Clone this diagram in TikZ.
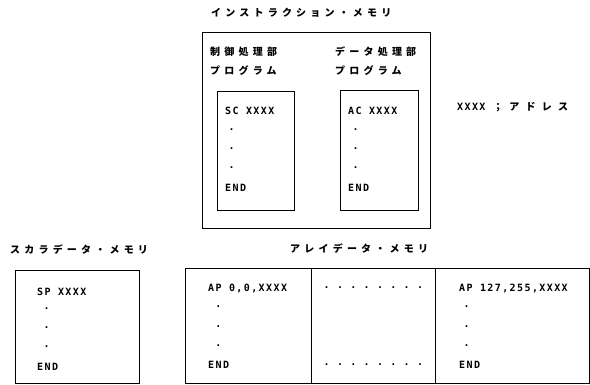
\documentclass[tikz,border=0pt]{standalone}
\usepackage{fontspec}
\newfontfamily\jpfont[LetterSpace=42]{Noto Sans CJK JP}
\newfontfamily\codefont[LetterSpace=14]{DejaVu Sans Mono}
\newfontfamily\dotfont{DejaVu Sans Mono}
\begin{document}
\begin{tikzpicture}[x=1pt,y=-1pt,
  box/.style={draw, line width=0.9pt, rectangle, inner sep=0pt, anchor=north west},
  jptext/.style={font=\jpfont\bfseries\fontsize{10pt}{12pt}\selectfont, inner sep=0pt, anchor=west},
  codetext/.style={font=\codefont\bfseries\fontsize{10pt}{12pt}\selectfont, inner sep=0pt, anchor=west},
  dotmark/.style={font=\dotfont\bfseries\fontsize{10pt}{12pt}\selectfont, inner sep=0pt, anchor=center}]
\useasboundingbox (0,0) rectangle (590,385);
\fill[white] (0,0) rectangle (590,385);

% instruction memory
\node[jptext] (ttl) at (211,13) {インストラクション・メモリ};
\node[box, minimum width=228pt, minimum height=196pt] (imem) at (202,32) {};
\node[jptext] (cl1) at (210,52) {制御処理部};
\node[jptext] (cl2) at (210,71) {プログラム};
\node[jptext] (dl1) at (335,52) {データ処理部};
\node[jptext] (dl2) at (335,71) {プログラム};

\node[box, minimum width=77pt, minimum height=119pt] (sc) at (217,91) {};
\node[box, minimum width=78pt, minimum height=120pt] (ac) at (340,90) {};

\node[codetext] (sc1) at (225,111) {SC XXXX};
\node[dotmark] (scd1) at (231.7,130) {.};
\node[dotmark] (scd2) at (231.7,149) {.};
\node[dotmark] (scd3) at (231.7,168) {.};
\node[codetext] (sc2) at (225,188) {END};

\node[codetext] (ac1) at (348,111) {AC XXXX};
\node[dotmark] (acd1) at (355.7,130) {.};
\node[dotmark] (acd2) at (355.7,149) {.};
\node[dotmark] (acd3) at (355.7,168) {.};
\node[codetext] (ac2) at (348,188) {END};

% legend
\node[codetext] (lgx) at (457,107) {XXXX};
\node[jptext, font=\jpfont\bfseries\fontsize{10pt}{12pt}\selectfont\addfontfeatures{LetterSpace=62}] (lgt) at (493,107) {；アドレス};

% scalar data memory
\node[jptext] (stl) at (10,250) {スカラデータ・メモリ};
\node[box, minimum width=124pt, minimum height=113pt] (smem) at (15,270) {};
\node[codetext] (sp1) at (37,292) {SP XXXX};
\node[dotmark] (spd1) at (46.7,309) {.};
\node[dotmark] (spd2) at (46.7,328) {.};
\node[dotmark] (spd3) at (46.7,347) {.};
\node[codetext] (sp2) at (37,367) {END};

% array data memory
\node[jptext] (atl) at (290,249) {アレイデータ・メモリ};
\node[box, minimum width=126pt, minimum height=115pt] (am1) at (185,268) {};
\node[box, minimum width=124pt, minimum height=115pt] (am2) at (311,268) {};
\node[box, minimum width=154pt, minimum height=115pt] (am3) at (435,268) {};

\node[codetext] (ap1) at (208,288) {AP 0,0,XXXX};
\node[dotmark] (apd1) at (218.3,307) {.};
\node[dotmark] (apd2) at (218.3,327) {.};
\node[dotmark] (apd3) at (218.3,346) {.};
\node[codetext] (ap2) at (208,365) {END};

\foreach \i in {0,...,7} {
  \node[dotmark] (mt\i) at (326.7+13.33*\i,288) {.};
  \node[dotmark] (mb\i) at (326.7+13.33*\i,365) {.};
}

\node[codetext] (aq1) at (459,288) {AP 127,255,XXXX};
\node[dotmark] (aqd1) at (466.7,307) {.};
\node[dotmark] (aqd2) at (466.7,327) {.};
\node[dotmark] (aqd3) at (466.7,346) {.};
\node[codetext] (aq2) at (459,365) {END};
\end{tikzpicture}
\end{document}
